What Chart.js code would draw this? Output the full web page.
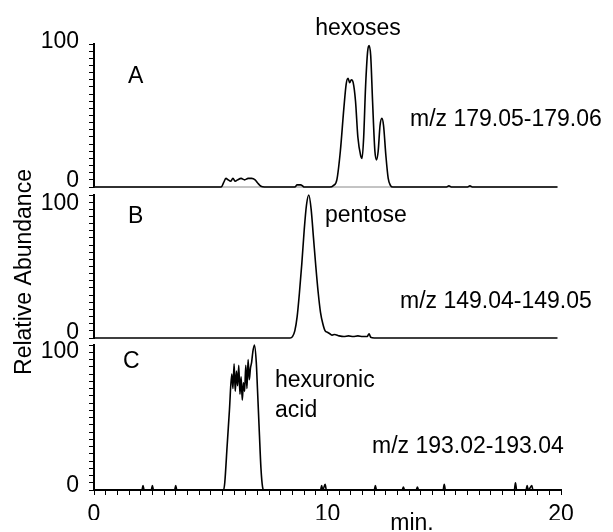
<!DOCTYPE html>
<html>
<head>
<meta charset="utf-8">
<title>Relative abundance traces</title>
<script src="https://cdn.jsdelivr.net/npm/chart.js@4.4.1/dist/chart.umd.min.js"></script>
<style>
  html, body { margin: 0; padding: 0; background: #fff; }
  #wrap { position: relative; width: 613px; height: 532px; }
  #wrap canvas { position: absolute; left: 0; top: 0; }
</style>
</head>
<body>
<div id="wrap">
  <canvas id="chartA" width="613" height="532"></canvas>
  <canvas id="chartB" width="613" height="532"></canvas>
  <canvas id="chartC" width="613" height="532"></canvas>
</div>
<script>
// retention time (min) and relative abundance (%)
const timeA = [0, 5.45, 5.55, 5.65, 5.75, 5.85, 5.95, 6.05, 6.15, 6.3, 6.45, 6.6, 6.75, 6.9, 7.0, 7.15, 7.3,
  8.6, 8.7, 8.85, 8.95, 9.0, 10.1, 10.25, 10.4, 10.55, 10.7, 10.8, 10.88, 10.95, 11.02, 11.1, 11.2, 11.3,
  11.42, 11.48, 11.55, 11.63, 11.72, 11.78, 11.85, 11.93, 12.03, 12.1, 12.17, 12.25, 12.33, 12.4, 12.5,
  12.6, 12.7, 12.8, 15.1, 15.2, 15.3, 16.0, 16.1, 16.2, 19.85];
const abundA = [0, 0, 3, 6, 5, 4, 6, 4, 5, 6, 5, 6, 6, 5, 3, 0.5, 0,
  0, 1.5, 1.5, 0.5, 0, 0, 1, 5, 25, 55, 72, 76, 73, 75, 73, 60, 35,
  22, 20, 35, 70, 95, 99, 92, 60, 25, 19, 25, 43, 48, 43, 22,
  6, 1, 0, 0, 0.8, 0, 0, 0.8, 0, 0];
const baseTimeA = [0, 19.85];
const baseAbundA = [0, 0];

const timeB = [0, 8.4, 8.5, 8.6, 8.7, 8.8, 8.9, 9.0, 9.1, 9.2, 9.3, 9.4, 9.5, 9.6, 9.7, 9.8, 9.9, 10.0,
  10.1, 10.2, 10.3, 10.5, 10.7, 10.9, 11.1, 11.3, 11.5, 11.7, 11.78, 11.85, 12.0, 19.85];
const abundB = [0, 0, 1, 5, 15, 32, 52, 75, 93, 100, 90, 70, 50, 32, 18, 10, 5, 4,
  3, 2, 2.5, 1.5, 1, 1.5, 1, 1.5, 1, 1, 3, 0.5, 0, 0];

const timeC = [0, 2.05, 2.1, 2.15, 2.45, 2.5, 2.55, 3.45, 3.5, 3.55, 5.55, 5.6, 5.7, 5.8, 5.9, 5.95, 6.0,
  6.05, 6.1, 6.15, 6.2, 6.25, 6.3, 6.35, 6.4, 6.45, 6.5, 6.55, 6.6, 6.65, 6.7, 6.75, 6.8, 6.87, 6.95,
  7.0, 7.08, 7.15, 7.22, 7.28, 9.7, 9.75, 9.8, 9.9, 9.95, 12.0, 12.05, 12.1, 13.2, 13.25, 13.3, 13.8,
  13.85, 13.9, 14.95, 15.0, 15.05, 18.0, 18.05, 18.1, 18.5, 18.55, 18.6, 18.75, 18.8, 20];
const abundC = [0, 0, 3, 0, 0, 3, 0, 0, 3, 0, 0, 5, 30, 55, 80, 70, 87,
  68, 82, 72, 86, 66, 78, 62, 74, 68, 86, 70, 90, 76, 84, 88, 95, 100, 88,
  70, 40, 15, 2, 0, 0, 3, 0, 4, 0, 0, 3, 0, 0, 2, 0, 0,
  2, 0, 0, 4, 0, 0, 5, 0, 0, 3, 0, 3, 0, 0];

const xTickLabels = [0, 10, 20];
const yTickLabels = [0, 100];

const notesA = ["A", "hexoses", "m/z 179.05-179.06"];
const notesB = ["B", "pentose", "m/z 149.04-149.05", "Relative Abundance"];
const notesC = ["C", "hexuronic", "acid", "m/z 193.02-193.04", "min."];

const FONT = "'Liberation Sans', Arial, sans-serif";

function pts(xs, ys) {
  return xs.map((x, i) => ({ x, y: ys[i] }));
}

// free text in canvas pixels, and the 0 / 100 labels nudged off their ticks like the original
function notesPlugin(items, yShift) {
  return {
    id: "notes",
    afterDraw(chart) {
      const ctx = chart.ctx;
      const y = chart.scales.y;
      ctx.save();
      ctx.fillStyle = "#000";
      ctx.font = "23px " + FONT;
      ctx.textBaseline = "alphabetic";
      ctx.textAlign = "right";
      yTickLabels.forEach((v, i) => {
        ctx.fillText(String(v), 79, y.getPixelForValue(v) + yShift[i]);
      });
      for (const it of items) {
        ctx.save();
        ctx.textAlign = it.align || "left";
        ctx.translate(it.x, it.y);
        if (it.rot) ctx.rotate(it.rot);
        ctx.fillText(it.text, 0, 0);
        ctx.restore();
      }
      ctx.restore();
    }
  };
}

function makePanel(id, datasets, top, bottom, showX, items, yShift) {
  return new Chart(document.getElementById(id), {
    type: "line",
    data: { datasets },
    options: {
      responsive: false,
      animation: false,
      events: [],
      layout: { padding: { left: 0, right: 52, top, bottom } },
      plugins: { legend: { display: false }, tooltip: { enabled: false } },
      scales: {
        x: {
          type: "linear",
          min: 0,
          max: 20,
          display: showX,
          afterFit: s => { if (showX) s.height = 30; },
          ticks: {
            stepSize: 0.5,
            autoSkip: false,
            maxRotation: 0,
            padding: 6,
            color: "#000",
            font: { family: FONT, size: 23 },
            callback: v => xTickLabels.includes(v) ? String(v) : ""
          },
          grid: { drawOnChartArea: false, tickLength: 5, color: "#000", lineWidth: 1 },
          border: { display: true, color: "#000", width: 2 }
        },
        y: {
          min: 0,
          max: 100,
          afterFit: s => { s.width = 94; },
          ticks: {
            stepSize: 5,
            autoSkip: false,
            padding: 10,
            color: "#000",
            font: { family: FONT, size: 23 },
            callback: () => ""
          },
          grid: { drawOnChartArea: false, tickLength: 5, color: "#000", lineWidth: 1 },
          border: { display: true, color: "#000", width: 2 }
        }
      }
    },
    plugins: [notesPlugin(items, yShift)]
  });
}

function trace(xs, ys, color, width) {
  return {
    data: pts(xs, ys),
    borderColor: color,
    borderWidth: width,
    pointRadius: 0,
    cubicInterpolationMode: "monotone",
    clip: false,
    fill: false
  };
}

makePanel("chartA", [
  trace(timeA, abundA, "#000", 1.6),
  trace(baseTimeA, baseAbundA, "#888", 1)
], 44, 345, false, [
  { text: notesA[0], x: 128, y: 83 },
  { text: notesA[1], x: 358, y: 35, align: "center" },
  { text: notesA[2], x: 410, y: 126 }
], [0, 4]);

makePanel("chartB", [
  trace(timeB, abundB, "#000", 1.6)
], 195, 194, false, [
  { text: notesB[0], x: 128, y: 223 },
  { text: notesB[1], x: 325, y: 222 },
  { text: notesB[2], x: 400, y: 308 },
  { text: notesB[3], x: 31, y: 272, align: "center", rot: -Math.PI / 2 }
], [1, 15]);

makePanel("chartC", [
  trace(timeC, abundC, "#000", 1.6)
], 345, 12, true, [
  { text: notesC[0], x: 123, y: 368 },
  { text: notesC[1], x: 275, y: 387 },
  { text: notesC[2], x: 275, y: 417 },
  { text: notesC[3], x: 372, y: 453 },
  { text: notesC[4], x: 412, y: 530, align: "center" }
], [2, 13]);
</script>
</body>
</html>
